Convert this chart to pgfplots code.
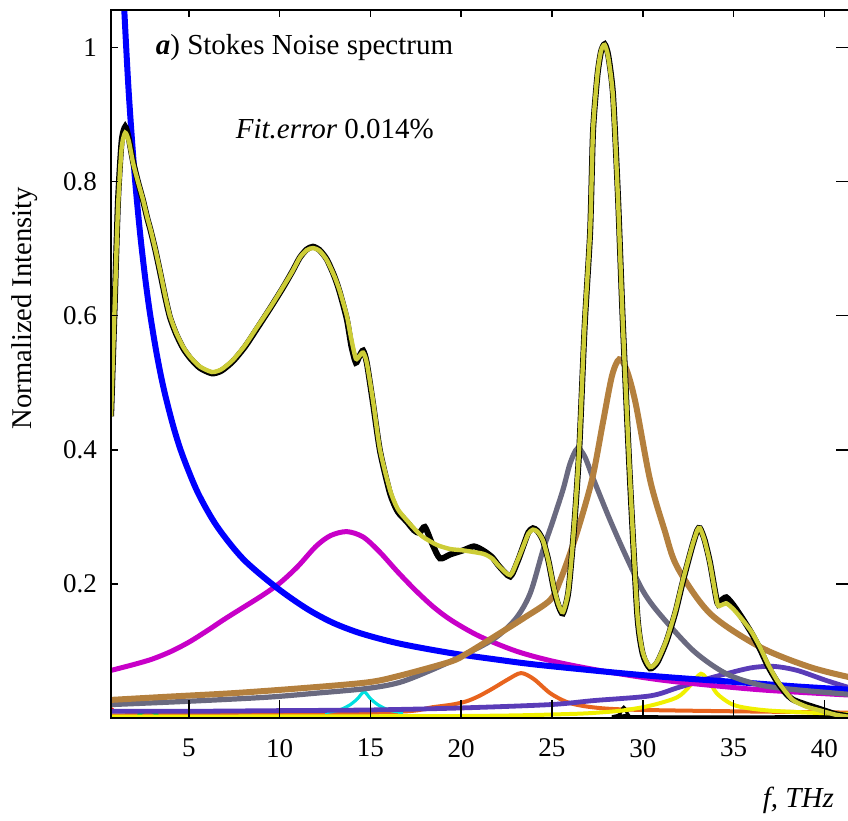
\documentclass[border=0pt]{standalone}
\usepackage{pgfplots}
\pgfplotsset{compat=1.18}
\usepackage{fontspec}
\setmainfont{Liberation Serif}

\definecolor{cblue}{RGB}{0,0,255}
\definecolor{cmag}{RGB}{200,0,200}
\definecolor{cgray}{RGB}{106,106,128}
\definecolor{cbrown}{RGB}{180,128,62}
\definecolor{cpurple}{RGB}{90,60,184}
\definecolor{corange}{RGB}{232,100,30}
\definecolor{ccyan}{RGB}{0,224,224}
\definecolor{cyellow}{RGB}{240,240,0}
\definecolor{colive}{RGB}{205,205,55}
\definecolor{cgreen}{RGB}{0,180,60}

\pgfplotstableread{
x y
0.72 0.45
0.9 0.60
1.1 0.76
1.3 0.85
1.5 0.873
1.7 0.860
1.93 0.828
2.2 0.800
2.48 0.773
2.7 0.748
2.9 0.728
3.15 0.700
3.41 0.668
3.7 0.630
3.96 0.600
4.3 0.575
4.7 0.553
5.1 0.538
5.62 0.524
6.28 0.516
6.8 0.520
7.43 0.534
8.1 0.556
8.76 0.583
9.5 0.613
10.19 0.643
10.7 0.666
11.12 0.687
11.5 0.698
11.84 0.701
12.2 0.697
12.6 0.683
13.0 0.660
13.3 0.638
13.7 0.600
13.95 0.565
14.2 0.536
14.4 0.540
14.6 0.545
14.8 0.530
15.14 0.474
15.53 0.40
16.08 0.34
16.5 0.312
17.0 0.295
17.5 0.28
17.9 0.27
18.67 0.258
19.4 0.252
20.1 0.250
21.2 0.245
21.7 0.238
22.1 0.226
22.7 0.213
23.1 0.235
23.4 0.255
23.7 0.275
23.95 0.281
24.2 0.278
24.5 0.265
24.8 0.235
25.1 0.195
25.35 0.170
25.6 0.158
25.9 0.190
26.2 0.280
26.5 0.404
26.8 0.589
27.1 0.728
27.26 0.877
27.5 0.96
27.7 0.995
27.9 1.004
28.1 0.985
28.36 0.926
28.63 0.777
28.9 0.589
29.3 0.355
29.7 0.156
30.0 0.098
30.4 0.076
30.8 0.085
31.3 0.116
31.8 0.16
32.2 0.205
32.7 0.255
33.0 0.280
33.15 0.283
33.4 0.265
33.7 0.231
34.1 0.171
34.3 0.168
34.6 0.171
35.0 0.162
35.5 0.146
36.0 0.128
36.45 0.106
36.9 0.08
37.4 0.056
37.9 0.038
38.3 0.026
39.0 0.017
39.8 0.011
40.6 0.005
41.52 0.001
}\fitdata

\pgfplotstableread{
x y
0.72 0.45
0.9 0.60
1.1 0.77
1.3 0.86
1.5 0.882
1.7 0.864
1.93 0.830
2.2 0.800
2.48 0.772
2.7 0.747
2.9 0.727
3.15 0.699
3.41 0.666
3.7 0.628
3.96 0.598
4.3 0.573
4.7 0.551
5.1 0.536
5.62 0.522
6.28 0.514
6.8 0.518
7.43 0.532
8.1 0.554
8.76 0.581
9.5 0.612
10.19 0.642
10.7 0.666
11.12 0.687
11.5 0.699
11.84 0.703
12.2 0.698
12.6 0.684
13.0 0.660
13.3 0.636
13.7 0.595
13.95 0.555
14.2 0.530
14.4 0.540
14.6 0.548
14.8 0.530
15.14 0.470
15.53 0.398
16.08 0.335
16.5 0.308
17.0 0.293
17.4 0.280
17.7 0.276
18.0 0.285
18.4 0.260
18.83 0.238
19.4 0.244
20.1 0.250
20.7 0.256
21.2 0.250
21.7 0.240
22.1 0.226
22.7 0.211
23.1 0.233
23.4 0.255
23.7 0.277
23.95 0.283
24.2 0.279
24.5 0.265
24.8 0.235
25.1 0.193
25.35 0.168
25.6 0.156
25.9 0.188
26.2 0.278
26.5 0.40
26.8 0.585
27.1 0.725
27.26 0.875
27.5 0.958
27.7 0.994
27.9 1.005
28.1 0.988
28.36 0.93
28.63 0.78
28.9 0.59
29.3 0.352
29.7 0.153
30.0 0.095
30.4 0.074
30.8 0.083
31.3 0.114
31.8 0.158
32.2 0.203
32.7 0.254
33.0 0.280
33.15 0.283
33.4 0.266
33.7 0.232
34.1 0.172
34.3 0.175
34.6 0.180
35.0 0.168
35.5 0.148
36.0 0.126
36.45 0.103
36.9 0.077
37.4 0.054
37.9 0.036
38.3 0.027
39.0 0.020
39.8 0.013
40.6 0.006
41.52 0.002
}\measdata

\begin{document}
\begin{tikzpicture}
\pgfplotsset{common/.style={
  width=370.5pt, height=354pt, scale only axis,
  xmin=0.716, xmax=41.52, ymin=0, ymax=1.056,
  xtick={5,10,15,20,25,30,35,40},
  ytick={0.2,0.4,0.6,0.8,1},
  tick align=inside,
}}
\begin{axis}[common,
  axis on top,
  major tick length=3.5pt,
  tick style={black, line width=0.75pt},
  axis line style={line width=1pt},
  /pgf/number format/assume math mode=true,
  tick label style={font=\fontsize{13.5}{15}\selectfont},
  xticklabel style={yshift=-7pt},
  yticklabel style={xshift=-3.5pt},
  xlabel={\textit{f, THz}},
  every axis x label/.style={at={(axis description cs:0.985,-0.116)}, anchor=east, font=\fontsize{14.5}{16}\selectfont},
  ylabel={Normalized Intensity},
  every axis y label/.style={at={(axis description cs:-0.116,0.579)}, rotate=90, anchor=center, font=\fontsize{14.3}{16}\selectfont},
]
\coordinate (sw) at (rel axis cs:0,0);
\coordinate (ne) at (rel axis cs:1,1);
% small components
\addplot[corange, line width=2pt, smooth] coordinates {
(0.72,0.004) (12,0.006) (17,0.010) (18.4,0.016) (19.5,0.020) (20.3,0.025) (21.0,0.033) (21.8,0.045) (22.6,0.058) (23.3,0.067) (24.0,0.058) (24.9,0.037) (25.8,0.024) (26.7,0.018) (28.0,0.014) (30,0.012) (35,0.010) (41.52,0.008)};
\addplot[ccyan, line width=1.6pt, smooth] coordinates {
(12.5,0.008) (13.3,0.012) (13.9,0.020) (14.3,0.029) (14.65,0.039) (15.0,0.029) (15.4,0.020) (16.0,0.012) (16.8,0.008)};
\addplot[cgreen, line width=1.6pt, smooth] coordinates {
(2.2,0.004) (2.5,0.009) (2.75,0.011) (3.0,0.009) (3.3,0.004)};
\addplot[red, line width=1.6pt] coordinates {(0.72,0.014) (0.82,0.012)};
\addplot[black, line width=1.5pt, smooth] coordinates {
(28.3,0.002) (28.7,0.005) (28.95,0.016) (29.2,0.005) (29.6,0.002) (41.52,0.002)};
\addplot[cyellow, line width=2pt, smooth] coordinates {
(0.72,0.002) (20,0.003) (26,0.006) (28,0.009) (29.1,0.012) (30.5,0.019) (31.9,0.031) (32.6,0.048) (33.2,0.066) (33.7,0.052) (34.1,0.036) (34.8,0.022) (35.5,0.016) (37,0.011) (40.1,0.007) (41.52,0.006)};
\addplot[cpurple, line width=2.4pt, smooth] coordinates {
(0.72,0.010) (5,0.010) (10,0.011) (15,0.012) (20,0.015) (24.9,0.020) (27.3,0.026) (30.4,0.033) (31.9,0.045) (33.5,0.058) (34.6,0.066) (36.0,0.075) (37.2,0.077) (38.5,0.071) (40.1,0.056) (41.52,0.044)};
% magenta
\addplot[cmag, line width=2.5pt, smooth] coordinates {
(0.72,0.071) (2,0.080) (3,0.088) (4,0.099) (5,0.113) (6,0.130) (7,0.148) (8,0.165) (9,0.182) (10,0.201) (11,0.226) (12,0.256) (12.8,0.272) (13.7,0.278) (14.6,0.270) (15.5,0.248) (16.5,0.218) (17.5,0.190) (18.5,0.165) (19.5,0.145) (21,0.122) (23,0.100) (25,0.085) (27.6,0.071) (30.9,0.057) (34,0.048) (37,0.041) (41.52,0.034)};
% blue
\addplot[cblue, line width=3pt, smooth] coordinates {
(1.2,1.212) (1.37,1.099) (1.67,0.943) (2.0,0.816) (2.31,0.725) (2.6,0.656) (2.86,0.604) (3.2,0.548) (3.5,0.506) (3.78,0.473) (4.2,0.430) (4.68,0.390) (5.5,0.336) (6.55,0.286) (8.0,0.237) (9.86,0.194) (11.5,0.163) (12.94,0.142) (14.5,0.126) (16.6,0.111) (19.4,0.097) (22.0,0.087) (24.0,0.080) (27.6,0.070) (30.4,0.063) (32.8,0.058) (36.0,0.052) (38.5,0.047) (41.52,0.042)};
% gray
\addplot[cgray, line width=2.6pt, smooth] coordinates {
(0.72,0.020) (5.0,0.025) (9.3,0.031) (12.0,0.037) (14.8,0.044) (16.6,0.053) (18.4,0.072) (20.0,0.092) (21.8,0.118) (23.0,0.148) (23.8,0.186) (24.5,0.25) (25.0,0.29) (25.6,0.34) (26.0,0.38) (26.4,0.402) (26.8,0.39) (27.3,0.355) (28.2,0.295) (29.1,0.24) (30.0,0.19) (30.9,0.156) (32.8,0.10) (34.6,0.066) (36.5,0.049) (38.5,0.042) (41.52,0.035)};
% brown
\addplot[cbrown, line width=3pt, smooth] coordinates {
(0.72,0.027) (4.0,0.032) (7.4,0.037) (11.0,0.044) (14.8,0.053) (16.6,0.063) (19.4,0.084) (20.3,0.096) (22.1,0.126) (23.5,0.150) (24.9,0.176) (25.45,0.205) (26.3,0.27) (27.2,0.355) (27.8,0.44) (28.3,0.51) (28.7,0.535) (29.1,0.52) (29.6,0.47) (30.4,0.355) (31.2,0.28) (31.9,0.225) (33.7,0.156) (36.45,0.106) (39.2,0.076) (41.52,0.060)};
% measured and fit
\addplot[black, line width=3pt, smooth, tension=0.4] table[x=x,y=y] {\measdata};
\addplot[colive, line width=2.2pt, smooth, tension=0.4] table[x=x,y=y] {\fitdata};
\node[anchor=base west, font=\fontsize{14.5}{16}\selectfont] at (axis cs:2.8,0.989) {\textbf{\textit{a}}) Stokes Noise spectrum};
\node[anchor=base west, font=\fontsize{14.5}{16}\selectfont] at (axis cs:7.2,0.865) {\textit{Fit.error} 0.014\%};
\end{axis}
% longer bottom ticks
\begin{axis}[common, ytick=\empty, xtick pos=left, major tick length=9pt,
  xticklabels={}, axis line style={draw=none},
  tick style={black, line width=0.75pt}]
\end{axis}
% longer right ticks
\begin{axis}[common, xtick=\empty, ytick pos=right, major tick length=8pt,
  yticklabels={}, axis line style={draw=none},
  tick style={black, line width=0.75pt}]
\end{axis}
\pgfresetboundingbox
\path[use as bounding box] ([shift={(-55.5pt,-51.5pt)}]sw) rectangle ([shift={(-2pt,5pt)}]ne);
\end{tikzpicture}
\end{document}
